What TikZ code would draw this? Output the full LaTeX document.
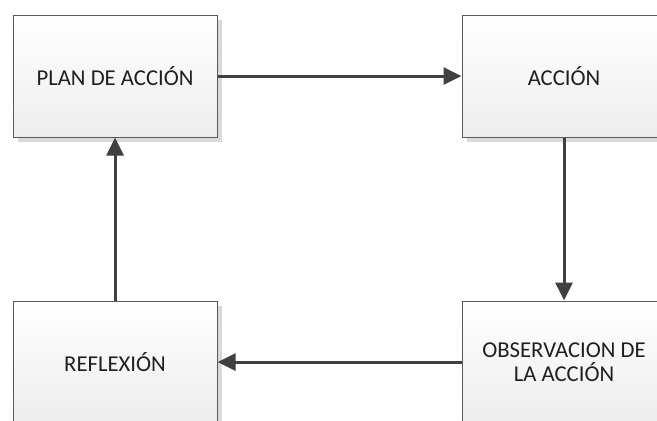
\documentclass[tikz,border=0pt]{standalone}
\usepackage{fontspec}
\setmainfont{Carlito}
\usetikzlibrary{arrows.meta,shadows}
\definecolor{edgegray}{HTML}{595959}
\definecolor{arrowgray}{HTML}{404040}
\definecolor{shadowgray}{HTML}{D9D9D9}
\tikzset{
  stagebox/.style={
    draw=edgegray, line width=1.1pt,
    top color=white, bottom color=black!7,
    minimum width=204pt, minimum height=122pt,
    anchor=north west, inner sep=0pt,
    align=center, font=\fontsize{22.7}{24.5}\selectfont, text=black!88,
    drop shadow={shadow xshift=4.5pt, shadow yshift=-4.5pt,
                 fill=shadowgray, opacity=1}
  },
  flow/.style={
    draw=arrowgray, line width=3pt,
    -{Triangle[length=18pt,width=17pt]}
  }
}
\begin{document}
\begin{tikzpicture}[x=1pt,y=-1pt]
  \useasboundingbox (0,0) rectangle (657,421);
  \clip (0,0) rectangle (657,421);
  \fill[white] (0,0) rectangle (657,421);

  \node[stagebox] (plan) at (12.5,14.5) {PLAN DE ACCIÓN};
  \node[stagebox] (accion) at (461.5,14.5) {ACCIÓN};
  \node[stagebox] (obs) at (461.5,300.5) {OBSERVACION DE\\LA ACCIÓN};
  \node[stagebox] (refl) at (12.5,300.5) {REFLEXIÓN};

  \draw[flow] (plan.east) -- (accion.west);
  \draw[flow] (accion.south) -- (obs.north);
  \draw[flow] (obs.west) -- (refl.east);
  \draw[flow] (refl.north) -- (plan.south);
\end{tikzpicture}
\end{document}
